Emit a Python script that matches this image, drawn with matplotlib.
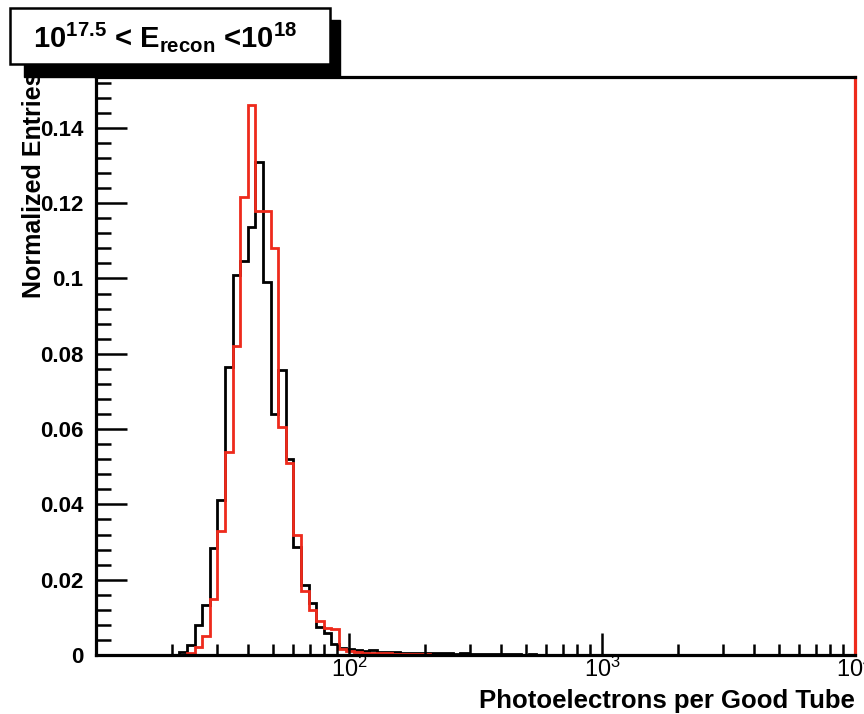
import matplotlib
matplotlib.use('Agg')
import matplotlib.pyplot as plt
import numpy as np
from matplotlib.patches import Rectangle
from matplotlib.ticker import MultipleLocator, FixedLocator, LogLocator, NullFormatter

plt.rcParams['font.family'] = ['Liberation Sans', 'DejaVu Sans']
plt.rcParams['mathtext.fontset'] = 'custom'
plt.rcParams['mathtext.rm'] = 'Liberation Sans:bold'
plt.rcParams['mathtext.it'] = 'Liberation Sans:italic'
plt.rcParams['mathtext.bf'] = 'Liberation Sans:bold'

# histogram binning: 100 log bins from 10 to 10^4
n_bins = 100
bin_edges = np.logspace(1, 4, n_bins + 1)

# normalized entries per bin
black_vals = [0, 0, 0, 0, 0, 0, 0, 0, 0, 0,
              0, 0.0008, 0.0027, 0.0080, 0.0133, 0.0283, 0.0411, 0.0764, 0.1010, 0.1047,
              0.1136, 0.1308, 0.0990, 0.0640, 0.0756, 0.0520, 0.0287, 0.0186, 0.0138, 0.0075,
              0.0058, 0.0030, 0.0018, 0.0015, 0.0012, 0.0010, 0.0012, 0.0008, 0.0007, 0.0009,
              0.0006, 0.0006, 0.0005, 0.0006, 0.0004, 0.0005, 0.0004, 0.0003, 0.0004, 0.0003,
              0.0003, 0.0002, 0.0003, 0.0002, 0.0002, 0.0002, 0.0001, 0.0002, 0.0001, 0.0001,
              0.0001, 0.0001, 0.0001, 0.0001, 0.0001, 0.0001, 0, 0, 0, 0,
              0, 0, 0, 0, 0, 0, 0, 0, 0, 0,
              0, 0, 0, 0, 0, 0, 0, 0, 0, 0,
              0, 0, 0, 0, 0, 0, 0, 0, 0, 0]
red_vals = [0, 0, 0, 0, 0, 0, 0, 0, 0, 0,
            0, 0, 0.0005, 0.0020, 0.0050, 0.0150, 0.0330, 0.0540, 0.0820, 0.1215,
            0.1460, 0.1180, 0.1180, 0.1080, 0.0605, 0.0510, 0.0320, 0.0170, 0.0120, 0.0090,
            0.0072, 0.0068, 0.0015, 0.0010, 0.0008, 0.0006, 0.0005, 0.0004, 0.0004, 0.0003,
            0.0003, 0.0002, 0.0002, 0.0002, 0.0001, 0.0001, 0.0001, 0.0001, 0.0001, 0.0001,
            0, 0, 0, 0, 0, 0, 0, 0, 0, 0,
            0, 0, 0, 0, 0, 0, 0, 0, 0, 0,
            0, 0, 0, 0, 0, 0, 0, 0, 0, 0,
            0, 0, 0, 0, 0, 0, 0, 0, 0, 0,
            0, 0, 0, 0, 0, 0, 0, 0, 0, 0]

y_ticks = [0, 0.02, 0.04, 0.06, 0.08, 0.1, 0.12, 0.14]
y_labels = ['0', '0.02', '0.04', '0.06', '0.08', '0.1', '0.12', '0.14']
x_ticks = [1e2, 1e3, 1e4]
x_labels = [r'$\mathregular{10^{2}}$', r'$\mathregular{10^{3}}$', r'$\mathregular{10^{4}}$']

W, H = 864, 714
red = '#ee2a1c'

fig = plt.figure(figsize=(W / 100, H / 100), dpi=100)
ax = fig.add_axes([96 / W, 1 - 655 / H, (855 - 96) / W, (655 - 77) / H])

ax.stairs(black_vals, bin_edges, color='black', lw=2.0, baseline=0)
ax.stairs(red_vals, bin_edges, color=red, lw=2.0, baseline=0)

ax.set_xscale('log')
ax.set_xlim(10, 1e4)
ax.set_ylim(0, 0.1535)

ax.yaxis.set_major_locator(FixedLocator(y_ticks))
ax.set_yticklabels(y_labels, fontweight='bold')
ax.yaxis.set_minor_locator(MultipleLocator(0.004))
ax.xaxis.set_major_locator(FixedLocator(x_ticks))
ax.set_xticklabels(x_labels)
ax.xaxis.set_minor_locator(LogLocator(base=10, subs=np.arange(2, 10)))
ax.xaxis.set_minor_formatter(NullFormatter())

ax.tick_params(which='both', direction='in', width=1.8, colors='black',
               top=False, right=False)
ax.tick_params(axis='y', which='major', length=22, pad=9, labelsize=16)
ax.tick_params(axis='y', which='minor', length=11)
ax.tick_params(axis='x', which='major', length=16, pad=1, labelsize=17)
ax.tick_params(axis='x', which='minor', length=8)

for side in ['left', 'bottom', 'top', 'right']:
    ax.spines[side].set_linewidth(2.3)
ax.spines['right'].set_color(red)

ax.set_xlabel('Photoelectrons per Good Tube', fontsize=18.5, fontweight='bold')
ax.xaxis.set_label_coords(1.0, -0.058)
ax.xaxis.label.set_horizontalalignment('right')
ax.set_ylabel('Normalized Entries', fontsize=18, fontweight='bold')
ax.yaxis.set_label_coords(-0.082, 1.01)
ax.yaxis.label.set_verticalalignment('center')
ax.yaxis.label.set_horizontalalignment('right')

# title box with shadow
def box(x0, y0, x1, y1, **kw):
    return Rectangle((x0 / W, 1 - y1 / H), (x1 - x0) / W, (y1 - y0) / H,
                     transform=fig.transFigure, figure=fig, **kw)

fig.patches.append(box(24, 20, 340, 77, facecolor='black', edgecolor='black', zorder=5))
fig.patches.append(box(10, 8, 330, 64, facecolor='white', edgecolor='black', lw=1.8, zorder=6))
fig.text(165 / W, 1 - 37 / H,
         r'$\mathregular{10^{17.5}}$ < E$_{\mathregular{recon}}$ <$\mathregular{10^{18}}$',
         fontsize=21, fontweight='bold', ha='center', va='center', zorder=7)

fig.savefig('out.png', dpi=100)
